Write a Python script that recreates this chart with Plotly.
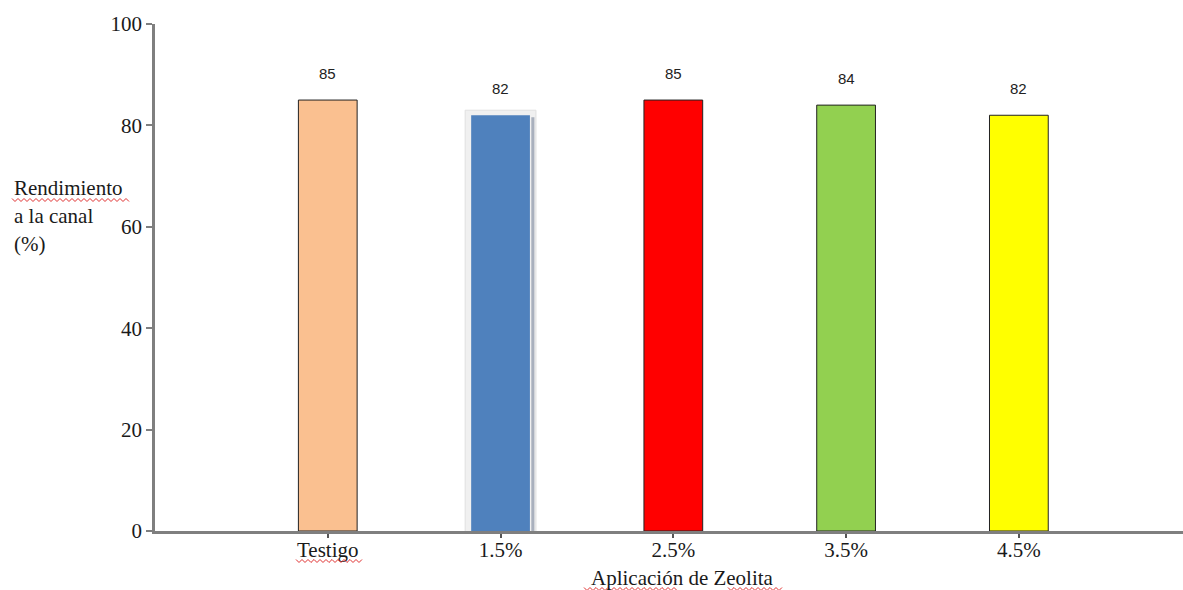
import plotly.graph_objects as go

# Data
categories = ["Testigo", "1.5%", "2.5%", "3.5%", "4.5%"]
rendimiento = [85, 82, 85, 84, 82]
bar_colors = ["#FAC090", "#4F81BD", "#FF0000", "#92D050", "#FFFF00"]
y_ticks = [0, 20, 40, 60, 80, 100]

SERIF = "Liberation Serif"
SANS = "Liberation Sans"
AXIS_GREY = "#7f7f7f"
BAR_W = 0.34

positions = list(range(len(categories)))

fig = go.Figure()

# Every bar except the highlighted one keeps a thin black outline
line_widths = [0 if c == "1.5%" else 1 for c in categories]
fig.add_trace(go.Bar(
    x=positions,
    y=rendimiento,
    width=BAR_W,
    marker=dict(color=bar_colors, line=dict(color="#222222", width=line_widths)),
    hoverinfo="skip",
))

# Value labels above the bars
for xi, v in zip(positions, rendimiento):
    fig.add_annotation(
        x=xi, y=v, xref="x", yref="y", text=str(v), showarrow=False,
        yshift=27, font=dict(family=SANS, size=15, color="#222222"),
    )

# Selection frame and shadow around the 1.5% bar
sel = categories.index("1.5%")
sv = rendimiento[sel]
half = BAR_W / 2
shapes = [
    dict(type="rect", xref="x", yref="y", layer="below",
         x0=sel - half - 0.035, x1=sel + half + 0.035, y0=-0.4, y1=sv + 1.0,
         fillcolor="#f0f0f0", line=dict(width=1, color="#e0e0e0")),
    dict(type="rect", xref="x", yref="y", layer="above",
         x0=sel + half + 0.008, x1=sel + half + 0.026, y0=0, y1=sv - 0.4,
         fillcolor="#a9b0bd", line=dict(width=0)),
    dict(type="rect", xref="x", yref="y", layer="above",
         x0=sel - half - 0.035, x1=sel + half + 0.035, y0=-0.9, y1=-0.2,
         fillcolor="#98a2b4", line=dict(width=0)),
]


def wavy(x0, x1, y, amp=1.5, step=3.0):
    """Red squiggle underline path in pixel units converted to paper coords."""
    L, T, PW, PH = 155, 24, 1183 - 155, 531 - 24
    pts = []
    x = x0
    k = 0
    while x <= x1:
        yy = y + (amp if k % 2 else -amp)
        pts.append(((x - L) / PW, 1 - (yy - T) / PH))
        x += step
        k += 1
    return "M " + " L ".join(f"{a:.5f},{b:.5f}" for a, b in pts)


for x0, x1, y in [(12, 130, 200), (296, 362, 561), (584, 678, 589), (728, 782, 589)]:
    shapes.append(dict(type="path", xref="paper", yref="paper", layer="above",
                       path=wavy(x0, x1, y), line=dict(color="#e03030", width=1)))

fig.update_layout(shapes=shapes)

# Y-axis title as three left-aligned lines
for text, ypx in [("Rendimiento", 188), ("a la canal", 216), ("(%)", 244)]:
    fig.add_annotation(
        x=(12 - 155) / (1183 - 155), y=1 - (ypx - 24) / (531 - 24),
        xref="paper", yref="paper", xanchor="left", yanchor="middle",
        text=text, showarrow=False, font=dict(family=SERIF, size=21, color="#1a1a1a"),
    )

# X-axis title
fig.add_annotation(
    x=(682 - 155) / (1183 - 155), y=1 - (578 - 24) / (531 - 24), xref="paper", yref="paper",
    xanchor="center", yanchor="middle", showarrow=False,
    text="Aplicación de Zeolita", font=dict(family=SERIF, size=21, color="#1a1a1a"),
)

fig.update_layout(
    width=1183, height=590,
    margin=dict(l=155, r=0, t=24, b=59),
    plot_bgcolor="white", paper_bgcolor="white",
    showlegend=False,
    xaxis=dict(
        range=[-1, 4.95], tickvals=positions, ticktext=categories,
        showline=True, linecolor=AXIS_GREY, linewidth=2.5,
        ticks="outside", ticklen=4, tickcolor="#555555", tickwidth=1.5,
        showgrid=False, zeroline=False, ticklabelstandoff=-6,
        tickfont=dict(family=SERIF, size=21, color="#1a1a1a"),
    ),
    yaxis=dict(
        range=[0, 100], tickvals=y_ticks,
        showline=True, linecolor=AXIS_GREY, linewidth=2.5,
        ticks="outside", ticklen=6, tickcolor=AXIS_GREY, tickwidth=1.5,
        showgrid=False, zeroline=False,
        tickfont=dict(family=SERIF, size=21, color="#1a1a1a"),
    ),
)

fig.write_html("out.html")
